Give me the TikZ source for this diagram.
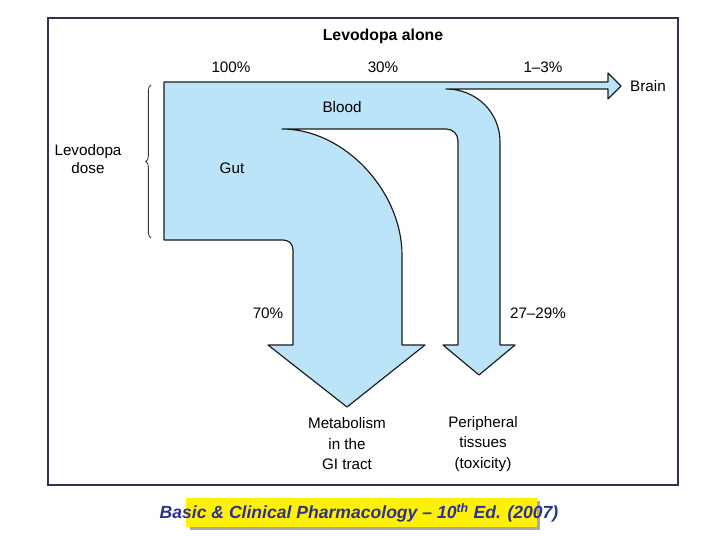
\documentclass[tikz,border=0pt]{standalone}
\usepackage{fontspec}
\setmainfont{Liberation Sans}
\usetikzlibrary{
  positioning,
  decorations.pathreplacing
}
\definecolor{flowblue}{HTML}{BCE4F8}
\definecolor{edge}{HTML}{1C1C1C}
\definecolor{framecol}{HTML}{33334F}
\definecolor{capblue}{HTML}{2E3192}
\definecolor{capshadow}{HTML}{A8A8A8}

\begin{document}
\begin{tikzpicture}[
  x=0.03cm, y=-0.03cm,
  flow/.style={fill=flowblue, draw=edge, line width=1pt, line join=round},
  lbl/.style={font=\fontsize{13}{15}\selectfont, align=center, inner sep=0pt},
  ttl/.style={font=\fontsize{13.5}{16}\selectfont\bfseries, inner sep=0pt},
  bracket/.style={draw=black!80, line width=0.7pt, decorate,
                  decoration={brace, amplitude=4.5pt}}
]
  \useasboundingbox (0,0) rectangle (720,540);
  \draw[framecol, line width=1.2pt] (48,18) rectangle (678,485);

  % flow of levodopa through gut, blood and brain
  \draw[flow] (164,82) -- (608,82) -- (608,73) -- (621,86) -- (608,99) -- (608,89)
    -- (446,89) .. controls (476,89) and (500,112) .. (500,142)
    -- (500,345) -- (515,345) -- (479,375) -- (443,345) -- (458,345)
    -- (458,141) .. controls (458,134) and (453,129) .. (446,129)
    -- (282,129) .. controls (345,129) and (402,192) .. (402,255)
    -- (402,345) -- (425,345) -- (347,407) -- (268,345) -- (293,345)
    -- (293,250) .. controls (293,244) and (289,240) .. (283,240)
    -- (164,240) -- cycle;

  \node[ttl] (title) at (383,36) {Levodopa alone};
  \node[lbl] (pctall) at (231,67) {100\%};
  \node[lbl] (pctblood) at (383,67) {30\%};
  \node[lbl] (pctbrain) at (543,67) {1--3\%};
  \node[lbl, anchor=west] (brain) at (630,86) {Brain};
  \node[lbl] (blood) at (342,107) {Blood};
  \node[lbl] (gut) at (232,168) {Gut};
  \node[lbl] (dose) at (88,159) {Levodopa\\dose};
  \node[lbl] (pctgi) at (268,313) {70\%};
  \node[lbl] (pctperi) at (538,313) {27--29\%};
  \node[lbl, font=\fontsize{13}{17.5}\selectfont] (gitract) at (347,444)
    {Metabolism\\in the\\GI tract};
  \node[lbl, font=\fontsize{13}{17.5}\selectfont] (periph) at (483,444)
    {Peripheral\\tissues\\(toxicity)};

  \draw[bracket] (151,238) -- (151,85);

  \fill[capshadow] (190,501) rectangle (540,530);
  \fill[yellow] (186,498) rectangle (537,527);
  \node[inner sep=0pt, text=capblue, font=\fontsize{15}{18}\selectfont\bfseries\itshape]
    (caption) at (359,513)
    {Basic \& Clinical Pharmacology -- 10\textsuperscript{th} Ed. (2007)};
\end{tikzpicture}
\end{document}
